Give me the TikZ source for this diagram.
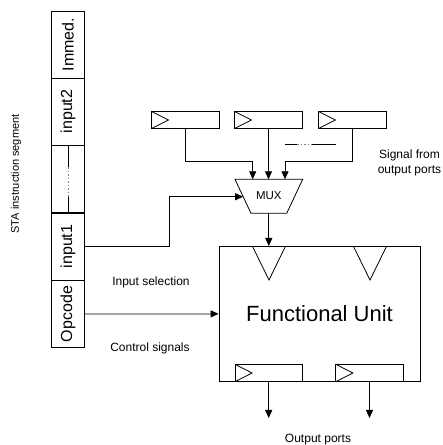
\documentclass[tikz,border=0pt]{standalone}
\usepackage{fontspec}
\setmainfont{Liberation Sans}
\usetikzlibrary{arrows.meta,calc}
\begin{document}
\begin{tikzpicture}[x=1pt,y=1pt,line width=0.8pt,
  cell/.style={draw,minimum width=33pt,minimum height=67pt,inner sep=0pt},
  celltext/.style={rotate=90,inner sep=0pt,font=\fontsize{16}{19}\selectfont},
  reg/.style={draw,minimum width=68pt,minimum height=17pt,inner sep=0pt,
    path picture={\draw (path picture bounding box.north west)
      -- ([xshift=17pt]path picture bounding box.west)
      -- (path picture bounding box.south west);}},
  lbl/.style={font=\fontsize{12}{15}\selectfont,align=center,inner sep=0pt},
  arr/.style={-{Triangle[length=8pt,width=7pt]}},
  gap/.style={gray,dash pattern=on 1.5pt off 2pt}]
\useasboundingbox (0,0) rectangle (443,445);

% instruction segment column
\node[cell] (imm) at (68,400.5) {};
\node[cell] (in2) at (68,333.5) {};
\node[cell] (dots) at (68,266) {};
\node[cell] (in1) at (68,198.5) {};
\node[cell] (op) at (68,131) {};
\node[celltext] (immt) at (imm) {Immed.};
\node[celltext] (in2t) at (in2) {input2};
\node[celltext] (in1t) at (in1) {input1};
\node[celltext] (opt) at (op) {Opcode};
\draw (dots.north) -- ++(0,-22);
\draw[gap] ($(dots.north)+(0,-22)$) -- ($(dots.south)+(0,16)$);
\draw ($(dots.south)+(0,16)$) -- (dots.south);
\node[lbl,font=\fontsize{11}{13}\selectfont,rotate=90] (sta) at (16,271) {STA instruction segment};

% output-port registers feeding the multiplexer
\node[reg] (r1) at (185.5,325) {};
\node[reg] (r2) at (268.5,325) {};
\node[reg] (r3) at (352.5,325) {};
\coordinate (ga) at (285,301);
\coordinate (gb) at (336,301);
\draw (ga) -- ++(12,0);
\draw[gap] ($(ga)+(12,0)$) -- ($(gb)+(-24,0)$);
\draw ($(gb)+(-24,0)$) -- (gb);
\node[lbl] (sig) at (409.5,282) {Signal from\\output ports};

% multiplexer
\coordinate (mtl) at (235,265.7);
\coordinate (mtr) at (302.7,265.7);
\coordinate (mbr) at (286.7,231.7);
\coordinate (mbl) at (251,231.7);
\draw (mtl) -- (mtr) -- (mbr) -- (mbl) -- cycle;
\node[lbl,font=\fontsize{11.5}{14}\selectfont] (mux) at (268.8,249) {MUX};
\coordinate (m1) at (252.7,265.7);
\coordinate (m2) at (268.5,265.7);
\coordinate (m3) at (285,265.7);
\coordinate (j1) at (252.7,283.3);
\coordinate (j3) at (285,283.3);
\coordinate (mL) at (243.2,248.3);
\coordinate (mo) at (268.8,231.7);
\draw[arr] (r1.south) |- (j1) -- (m1);
\draw[arr] (r2.south) -- (m2);
\draw[arr] (r3.south) |- (j3) -- (m3);

% functional unit
\node[draw,minimum width=201pt,minimum height=135.7pt,inner sep=0pt,
  font=\fontsize{22}{26}\selectfont] (fu) at (319.5,131.1) {Functional Unit};
\draw (252.3,199) -- (269,165) -- (285.6,199);
\draw (353.3,199) -- (370,165) -- (386.7,199);
\node[reg,minimum width=67.3pt,minimum height=17.4pt] (o1) at (268.7,72) {};
\node[reg,minimum width=67.3pt,minimum height=17.4pt] (o2) at (369.5,72) {};
\coordinate (fi) at (268.8,199);
\draw[arr] (mo) -- (fi);

% selection and control paths
\coordinate (kink) at (169,198.5);
\draw[arr] (in1.east) -- (kink) |- (mL);
\draw[arr] (op.east) -- (fu.west);
\node[lbl] (sel) at (151,163) {Input selection};
\node[lbl] (ctl) at (150,97) {Control signals};

% outputs
\coordinate (e1) at (268.7,27);
\coordinate (e2) at (369.5,27);
\draw[arr] (o1.south) -- (e1);
\draw[arr] (o2.south) -- (e2);
\node[lbl] (outp) at (318,5) {Output ports};
\end{tikzpicture}
\end{document}
